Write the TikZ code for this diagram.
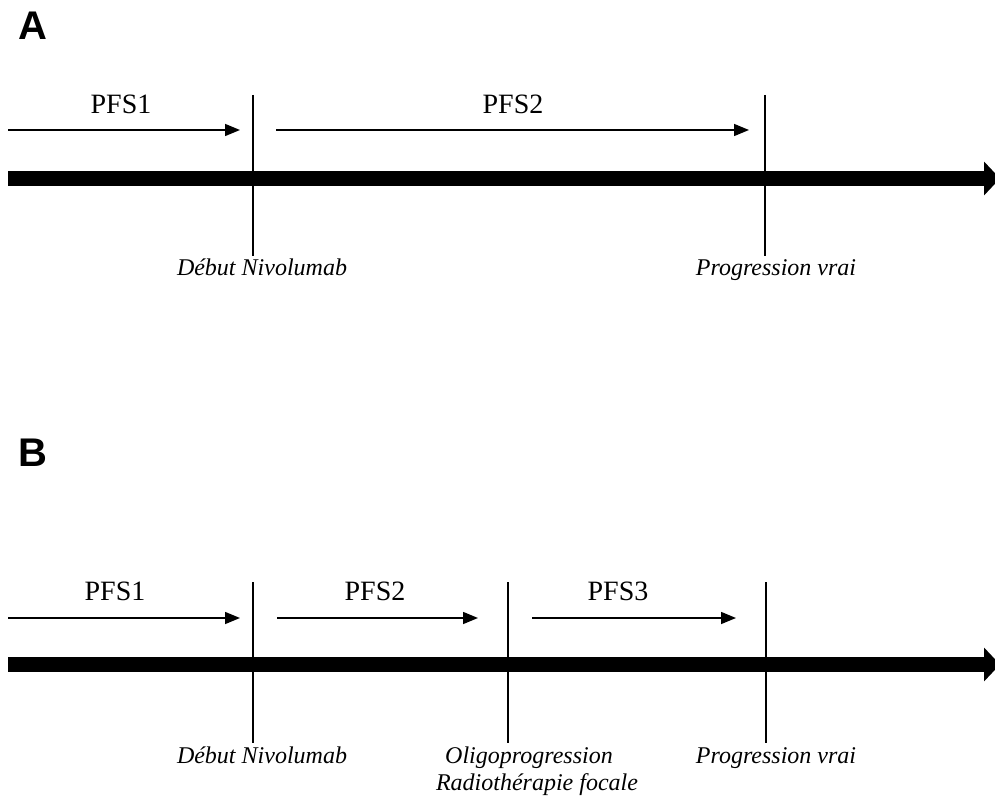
\documentclass[tikz,border=0pt]{standalone}
\usepackage{fontspec}
\setmainfont{Liberation Serif}
\setsansfont{Liberation Sans}
\usetikzlibrary{positioning, arrows.meta}

\begin{document}
\begin{tikzpicture}[
		x=0.5pt, y=-0.5pt,
		panel/.style={font=\sffamily\bfseries\fontsize{20}{24}\selectfont, inner sep=0pt},
		pfs/.style={font=\fontsize{14}{16}\selectfont, inner sep=0pt, anchor=base},
		event/.style={font=\itshape\fontsize{12}{14}\selectfont, inner sep=0pt, anchor=base},
		timeline/.style={line width=7.5pt, -{Triangle[width=16.5pt, length=8pt]}},
		tick/.style={line width=0.7pt},
		interval/.style={->, line width=0.75pt},
		>={Triangle[width=6pt, length=7.5pt]}
	]
	\useasboundingbox (0,0) rectangle (995,796);

	% panel A
	\node[panel] (labA) at (33,26) {A};
	\coordinate (ta0) at (8,178.5);
	\coordinate (ta1) at (1000,178.5);
	\draw[timeline] (ta0) -- (ta1);

	\coordinate (nivoAtop) at (253,95);
	\coordinate (nivoAbot) at (253,256);
	\coordinate (progAtop) at (765,95);
	\coordinate (progAbot) at (765,256);
	\foreach \i/\j in {nivoAtop/nivoAbot, progAtop/progAbot}
		\draw[tick] (\i) -- (\j);

	\coordinate (a1s) at (8,130);
	\coordinate (a1e) at (240,130);
	\coordinate (a2s) at (276,130);
	\coordinate (a2e) at (749,130);
	\foreach \i/\j in {a1s/a1e, a2s/a2e}
		\draw[interval] (\i) -- (\j);

	\node[pfs] (pfsA1) at (121,114) {PFS1};
	\node[pfs] (pfsA2) at (513,114) {PFS2};
	\node[event] (nivoA) at (262,276) {Début Nivolumab};
	\node[event] (progA) at (776,276) {Progression vrai};

	% panel B
	\node[panel] (labB) at (33,453) {B};
	\coordinate (tb0) at (8,664.5);
	\coordinate (tb1) at (1000,664.5);
	\draw[timeline] (tb0) -- (tb1);

	\coordinate (nivoBtop) at (253,582);
	\coordinate (nivoBbot) at (253,743);
	\coordinate (oligoBtop) at (508,582);
	\coordinate (oligoBbot) at (508,743);
	\coordinate (progBtop) at (766,582);
	\coordinate (progBbot) at (766,743);
	\foreach \i/\j in {nivoBtop/nivoBbot, oligoBtop/oligoBbot, progBtop/progBbot}
		\draw[tick] (\i) -- (\j);

	\coordinate (b1s) at (8,618);
	\coordinate (b1e) at (240,618);
	\coordinate (b2s) at (277,618);
	\coordinate (b2e) at (478,618);
	\coordinate (b3s) at (532,618);
	\coordinate (b3e) at (736,618);
	\foreach \i/\j in {b1s/b1e, b2s/b2e, b3s/b3e}
		\draw[interval] (\i) -- (\j);

	\node[pfs] (pfsB1) at (115,600) {PFS1};
	\node[pfs] (pfsB2) at (375,600) {PFS2};
	\node[pfs] (pfsB3) at (618,600) {PFS3};
	\node[event] (nivoB) at (262,763) {Début Nivolumab};
	\node[event] (oligoB) at (529,763) {Oligoprogression};
	\node[event] (radioB) at (537,790) {Radiothérapie focale};
	\node[event] (progB) at (776,763) {Progression vrai};

\end{tikzpicture}
\end{document}
